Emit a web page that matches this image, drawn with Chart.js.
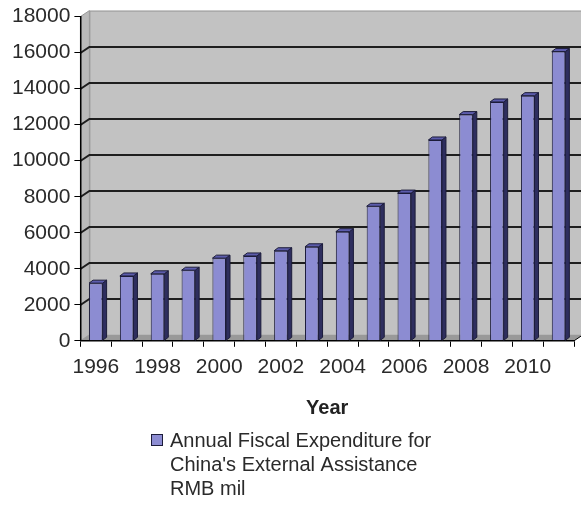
<!DOCTYPE html>
<html>
<head>
<meta charset="utf-8">
<script src="https://cdn.jsdelivr.net/npm/chart.js@4/dist/chart.umd.min.js"></script>
<style>
  html, body { margin: 0; padding: 0; background: #fff; }
  #wrap { width: 581px; height: 506px; position: relative; }
</style>
</head>
<body>
<div id="wrap"><canvas id="aidChart"></canvas></div>
<script>
// datos (RMB mil)
const years = ['1996', '1997', '1998', '1999', '2000', '2001', '2002', '2003',
               '2004', '2005', '2006', '2007', '2008', '2009', '2010', '2011'];
const expenditure = [3200, 3600, 3720, 3920, 4590, 4710, 5000, 5220,
                     6060, 7470, 8200, 11150, 12560, 13260, 13610, 16060];
const yTicks = [0, 2000, 4000, 6000, 8000, 10000, 12000, 14000, 16000, 18000];
const seriesLines = ['Annual Fiscal Expenditure for', "China's External Assistance", 'RMB mil'];
const xTitle = 'Year';

const FONT = "'Liberation Sans', Arial, sans-serif";
const DX = 9, DY = 6;      // profundidad de las paredes
const BX = 4, BY = 3;      // profundidad de las barras

// paredes, suelo y lineas de la rejilla en la pared del fondo
const wallsPlugin = {
  id: 'walls',
  beforeDraw(chart) {
    const ctx = chart.ctx;
    const a = chart.chartArea;
    const y = chart.scales.y;
    ctx.save();
    // pared del fondo
    ctx.fillStyle = '#c2c2c2';
    ctx.fillRect(a.left + DX, a.top - DY, a.right - a.left, a.bottom - a.top);
    ctx.strokeStyle = '#9a9a9a';
    ctx.lineWidth = 1;
    ctx.strokeRect(a.left + DX + 0.5, a.top - DY + 0.5, a.right - a.left, a.bottom - a.top);
    // pared lateral
    ctx.fillStyle = '#bababa';
    ctx.beginPath();
    ctx.moveTo(a.left, a.top);
    ctx.lineTo(a.left + DX, a.top - DY);
    ctx.lineTo(a.left + DX, a.bottom - DY);
    ctx.lineTo(a.left, a.bottom);
    ctx.closePath();
    ctx.fill();
    ctx.strokeStyle = '#9a9a9a';
    ctx.stroke();
    // suelo
    ctx.fillStyle = '#999999';
    ctx.beginPath();
    ctx.moveTo(a.left, a.bottom);
    ctx.lineTo(a.left + DX, a.bottom - DY);
    ctx.lineTo(a.right + DX, a.bottom - DY);
    ctx.lineTo(a.right, a.bottom);
    ctx.closePath();
    ctx.fill();
    // rejilla
    ctx.strokeStyle = '#1e1e1e';
    ctx.lineWidth = 2;
    yTicks.forEach(v => {
      if (v === 0 || v === y.max) return;
      const py = Math.round(y.getPixelForValue(v));
      ctx.beginPath();
      ctx.moveTo(a.left, py);
      ctx.lineTo(a.left + DX, py - DY);
      ctx.lineTo(a.right + DX, py - DY);
      ctx.stroke();
    });
    // linea diagonal al final del eje x
    ctx.lineWidth = 1;
    ctx.strokeStyle = '#000';
    ctx.beginPath();
    ctx.moveTo(a.right, a.bottom);
    ctx.lineTo(a.right + DX, a.bottom - DY);
    ctx.stroke();
    ctx.restore();
  }
};

// caras lateral y superior de cada barra
const barsPlugin = {
  id: 'bars3d',
  afterDatasetsDraw(chart) {
    const ctx = chart.ctx;
    const meta = chart.getDatasetMeta(0);
    ctx.save();
    ctx.lineWidth = 1;
    ctx.strokeStyle = '#1c1c3a';
    meta.data.forEach(bar => {
      const p = bar.getProps(['x', 'y', 'base', 'width'], true);
      const l = p.x - p.width / 2;
      const r = p.x + p.width / 2;
      // lateral
      ctx.fillStyle = '#2e2e5e';
      ctx.beginPath();
      ctx.moveTo(r, p.y);
      ctx.lineTo(r + BX, p.y - BY);
      ctx.lineTo(r + BX, p.base - BY);
      ctx.lineTo(r, p.base);
      ctx.closePath();
      ctx.fill();
      ctx.stroke();
      // superior
      ctx.fillStyle = '#5c5cac';
      ctx.beginPath();
      ctx.moveTo(l, p.y);
      ctx.lineTo(l + BX, p.y - BY);
      ctx.lineTo(r + BX, p.y - BY);
      ctx.lineTo(r, p.y);
      ctx.closePath();
      ctx.fill();
      ctx.stroke();
    });
    ctx.restore();
  }
};

// leyenda de varias lineas debajo del titulo del eje
const legendPlugin = {
  id: 'legendBox',
  afterDraw(chart) {
    const ctx = chart.ctx;
    ctx.save();
    ctx.fillStyle = '#8c8cd2';
    ctx.strokeStyle = '#1c1c3a';
    ctx.lineWidth = 1;
    ctx.fillRect(151.5, 434.5, 11, 11);
    ctx.strokeRect(151.5, 434.5, 11, 11);
    ctx.fillStyle = '#2a2a2a';
    ctx.font = '20px ' + FONT;
    ctx.textBaseline = 'middle';
    seriesLines.forEach((t, i) => {
      ctx.fillText(t, 170, 441 + i * 24);
    });
    ctx.restore();
  }
};

const ctx = document.getElementById('aidChart').getContext('2d');
const aidChart = new Chart(ctx, {
  type: 'bar',
  data: {
    labels: years,
    datasets: [{
      label: seriesLines.join(' '),
      data: expenditure,
      backgroundColor: '#8c8cd2',
      borderColor: '#1c1c3a',
      borderWidth: 1,
      barPercentage: 0.44,
      categoryPercentage: 1
    }]
  },
  options: {
    responsive: true,
    maintainAspectRatio: false,
    animation: false,
    layout: { padding: { top: 9, left: 8, right: 7, bottom: 82 } },
    plugins: {
      legend: { display: false },
      tooltip: { enabled: false }
    },
    scales: {
      x: {
        grid: { display: true, drawOnChartArea: false, offset: true, color: '#000', tickLength: 6 },
        border: { display: true, color: '#000', width: 1.5 },
        ticks: {
          autoSkip: false,
          maxRotation: 0,
          padding: 8,
          color: '#2a2a2a',
          font: { family: FONT, size: 21 },
          callback: (v, i) => (i % 2 === 0 ? years[i] : '')
        },
        title: {
          display: true,
          text: xTitle,
          color: '#222',
          font: { family: FONT, size: 20, weight: 'bold' },
          padding: { top: 8, bottom: 4 }
        }
      },
      y: {
        min: 0,
        max: 18000,
        afterBuildTicks: axis => { axis.ticks = yTicks.map(v => ({ value: v })); },
        grid: { display: true, drawOnChartArea: false, color: '#000', tickLength: 6 },
        border: { display: true, color: '#000', width: 1.5 },
        ticks: {
          padding: 4,
          color: '#2a2a2a',
          font: { family: FONT, size: 21 },
          callback: v => String(v)
        }
      }
    }
  },
  plugins: [wallsPlugin, barsPlugin, legendPlugin]
});
</script>
</body>
</html>
